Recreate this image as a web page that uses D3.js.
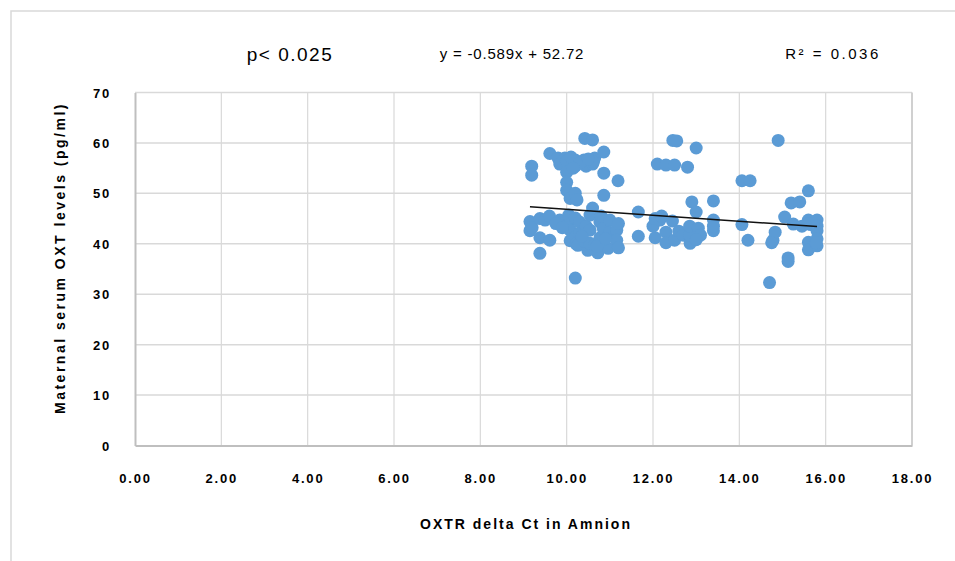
<!DOCTYPE html>
<html>
<head>
<meta charset="utf-8">
<script src="https://cdn.jsdelivr.net/npm/d3@7"></script>
<style>
  body { margin: 0; background: #fff; }
  svg text { font-family: "Liberation Sans Narrow", "Liberation Sans", Arial, sans-serif; fill: #000; }
</style>
</head>
<body>
<div id="chart"></div>
<script>
/* global d3 */

// OXTR delta Ct (x) and maternal serum OXT (y)
var oxtrDeltaCt = [
	9.19, 9.19, 9.15, 9.15, 9.2, 9.38, 9.38, 9.38, 9.5, 9.6, 9.61, 9.61,
	9.8, 9.84, 9.84, 9.75, 9.96, 10.0, 10.0, 10.0, 10.0, 10.08, 10.05, 10.08, 10.08, 10.05,
	10.2, 10.2, 10.2, 10.24, 10.2, 10.2, 10.2, 10.22, 10.3, 10.3, 10.26,
	10.42, 10.4, 10.45, 10.49, 10.45, 10.4, 10.54, 10.54, 10.54,
	10.6, 10.65, 10.6, 10.6, 10.65, 10.62, 10.72, 10.77, 10.77,
	10.86, 10.86, 10.86, 10.8, 10.85, 10.96, 11.0, 11.0,
	11.16, 11.16, 11.19, 11.2, 11.2, 11.66, 11.66,
	12.05, 12.0, 12.05, 12.16, 12.1, 12.3, 12.3, 12.3, 12.2,
	12.46, 12.55, 12.5, 12.5, 12.45, 12.6, 12.7, 12.8, 12.86, 12.85, 12.9, 12.85,
	13.0, 13.0, 13.05, 13.1, 13.0, 13.4, 13.4, 13.4, 13.4,
	14.06, 14.25, 14.06, 14.2, 14.78, 14.83, 14.7, 14.75, 14.9,
	15.05, 15.2, 15.4, 15.25, 15.13, 15.13, 15.45,
	15.6, 15.6, 15.6, 15.6, 15.65, 15.6, 15.8, 15.8, 15.8, 15.8, 15.8, 15.78,
	10.1, 10.3, 10.5, 10.15, 10.35, 9.9, 10.7, 10.9
];
var maternalOxt = [
	55.4, 53.6, 44.4, 42.6, 43.2, 45.0, 41.2, 38.1, 44.7, 45.5, 40.7, 57.9,
	57.0, 55.8, 44.7, 44.0, 57.0, 56.3, 54.2, 52.2, 50.6, 49.0, 44.0, 42.7, 40.6, 45.7,
	56.6, 55.4, 50.0, 48.7, 45.1, 41.3, 33.2, 40.0, 44.3, 42.1, 39.7,
	60.9, 56.6, 55.4, 38.7, 43.5, 40.6, 45.7, 42.7, 40.1,
	60.6, 57.0, 55.8, 47.1, 39.8, 56.2, 38.2, 44.3, 41.2,
	58.2, 54.0, 49.6, 45.5, 43.0, 39.1, 44.7, 42.3,
	42.7, 40.7, 52.5, 39.2, 44.0, 46.3, 41.5,
	41.2, 43.5, 45.0, 44.7, 55.8, 55.6, 42.3, 40.2, 45.5,
	60.5, 60.4, 55.6, 40.7, 44.5, 42.5, 41.7, 55.2, 40.1, 41.7, 48.3, 43.5,
	59.0, 46.3, 43.1, 41.7, 40.8, 48.5, 44.7, 42.6, 43.5,
	52.5, 52.5, 43.8, 40.7, 40.7, 42.3, 32.3, 40.2, 60.5,
	45.3, 48.1, 48.3, 43.9, 37.2, 36.5, 43.5,
	50.5, 44.7, 40.3, 38.8, 43.8, 44.0, 44.7, 43.5, 42.6, 41.0, 39.6, 40.2,
	57.2, 56.0, 56.8, 55.0, 41.5, 43.2, 39.5, 41.0
];

// Linear fit shown on the chart
var trendSlope = -0.589;
var trendIntercept = 52.72;

var xTicks = [0, 2, 4, 6, 8, 10, 12, 14, 16, 18];
var yTicks = [0, 10, 20, 30, 40, 50, 60, 70];

var headerP = 'p< 0.025';
var headerEq = 'y = -0.589x + 52.72';
var headerR2 = 'R\u00b2 = 0.036';
var xTitle = 'OXTR delta Ct in Amnion';
var yTitle = 'Maternal serum OXT levels (pg/ml)';

(function() {

	var outerWidth = 955,
		outerHeight = 561,
		plot = { left: 135, top: 92.5, right: 912, bottom: 445.5 };

	var points = oxtrDeltaCt.map(function(x, i) {
		return { x: x, y: maternalOxt[i] };
	});

	var svg = d3.select('#chart').append('svg')
		.attr('width', outerWidth)
		.attr('height', outerHeight);

	// Chart frame
	svg.append('rect')
		.attr('x', 11).attr('y', 11)
		.attr('width', 1000).attr('height', 600)
		.attr('fill', 'none')
		.attr('stroke', '#d9d9d9')
		.attr('stroke-width', 1.5);

	var xScale = d3.scaleLinear().domain([0, 18]).range([plot.left, plot.right]),
		yScale = d3.scaleLinear().domain([0, 70]).range([plot.bottom, plot.top]);

	// Gridlines
	var gGrid = svg.append('g').attr('class', 'grid');
	gGrid.selectAll('.hgrid').data(yTicks.slice(1))
		.enter().append('line')
		.attr('x1', plot.left).attr('x2', plot.right)
		.attr('y1', function(d) { return yScale(d); })
		.attr('y2', function(d) { return yScale(d); })
		.attr('stroke', '#d9d9d9')
		.attr('stroke-width', 1.5);
	gGrid.selectAll('.vgrid').data(xTicks.slice(1))
		.enter().append('line')
		.attr('y1', plot.top).attr('y2', plot.bottom)
		.attr('x1', function(d) { return xScale(d); })
		.attr('x2', function(d) { return xScale(d); })
		.attr('stroke', function(d) { return d === 18 ? '#d0d0d0' : '#d9d9d9'; })
		.attr('stroke-width', function(d) { return d === 18 ? 2 : 1.2; });

	// Axes
	var xAxis = d3.axisBottom(xScale)
		.tickValues(xTicks)
		.tickSize(0)
		.tickPadding(28)
		.tickFormat(d3.format('.2f'));
	var yAxis = d3.axisLeft(yScale)
		.tickValues(yTicks)
		.tickSize(0)
		.tickPadding(24)
		.tickFormat(d3.format('d'));

	var gX = svg.append('g')
		.attr('transform', 'translate(0,' + plot.bottom + ')')
		.call(xAxis);
	var gY = svg.append('g')
		.attr('transform', 'translate(' + plot.left + ',0)')
		.call(yAxis);

	[gX, gY].forEach(function(g) {
		g.select('.domain').attr('stroke', '#bfbfbf').attr('stroke-width', 2);
		g.selectAll('text')
			.attr('font-size', 13)
			.attr('font-weight', 'bold')
			.attr('letter-spacing', 1.8)
			.style('font-family', '"Liberation Sans Narrow", "Liberation Sans", Arial, sans-serif');
	});
	gY.selectAll('text').attr('dy', '0.35em');

	// Scatter points
	svg.append('g').attr('class', 'points')
		.selectAll('circle').data(points)
		.enter().append('circle')
		.attr('cx', function(d) { return xScale(d.x); })
		.attr('cy', function(d) { return yScale(d.y); })
		.attr('r', 6.5)
		.attr('fill', '#5b9bd5');

	// Trend line
	var xExtent = d3.extent(oxtrDeltaCt);
	svg.append('line')
		.attr('x1', xScale(xExtent[0]))
		.attr('y1', yScale(trendSlope * xExtent[0] + trendIntercept))
		.attr('x2', xScale(xExtent[1]))
		.attr('y2', yScale(trendSlope * xExtent[1] + trendIntercept))
		.attr('stroke', '#111')
		.attr('stroke-width', 1.5);

	// Header texts
	svg.append('text')
		.attr('x', 290).attr('y', 61)
		.attr('text-anchor', 'middle')
		.attr('font-size', 19)
		.attr('letter-spacing', 1.5)
		.text(headerP);
	svg.append('text')
		.attr('x', 512).attr('y', 59)
		.attr('text-anchor', 'middle')
		.attr('font-size', 15)
		.attr('letter-spacing', 0.8)
		.text(headerEq);
	svg.append('text')
		.attr('x', 833).attr('y', 59)
		.attr('text-anchor', 'middle')
		.attr('font-size', 15)
		.attr('letter-spacing', 2.5)
		.text(headerR2);

	// Axis titles
	svg.append('text')
		.attr('x', 526).attr('y', 529)
		.attr('text-anchor', 'middle')
		.attr('font-size', 14)
		.attr('font-weight', 'bold')
		.attr('letter-spacing', 2)
		.text(xTitle);
	svg.append('text')
		.attr('transform', 'translate(65,258) rotate(-90)')
		.attr('text-anchor', 'middle')
		.attr('font-size', 14)
		.attr('font-weight', 'bold')
		.attr('letter-spacing', 2.5)
		.text(yTitle);

})();
</script>
</body>
</html>
